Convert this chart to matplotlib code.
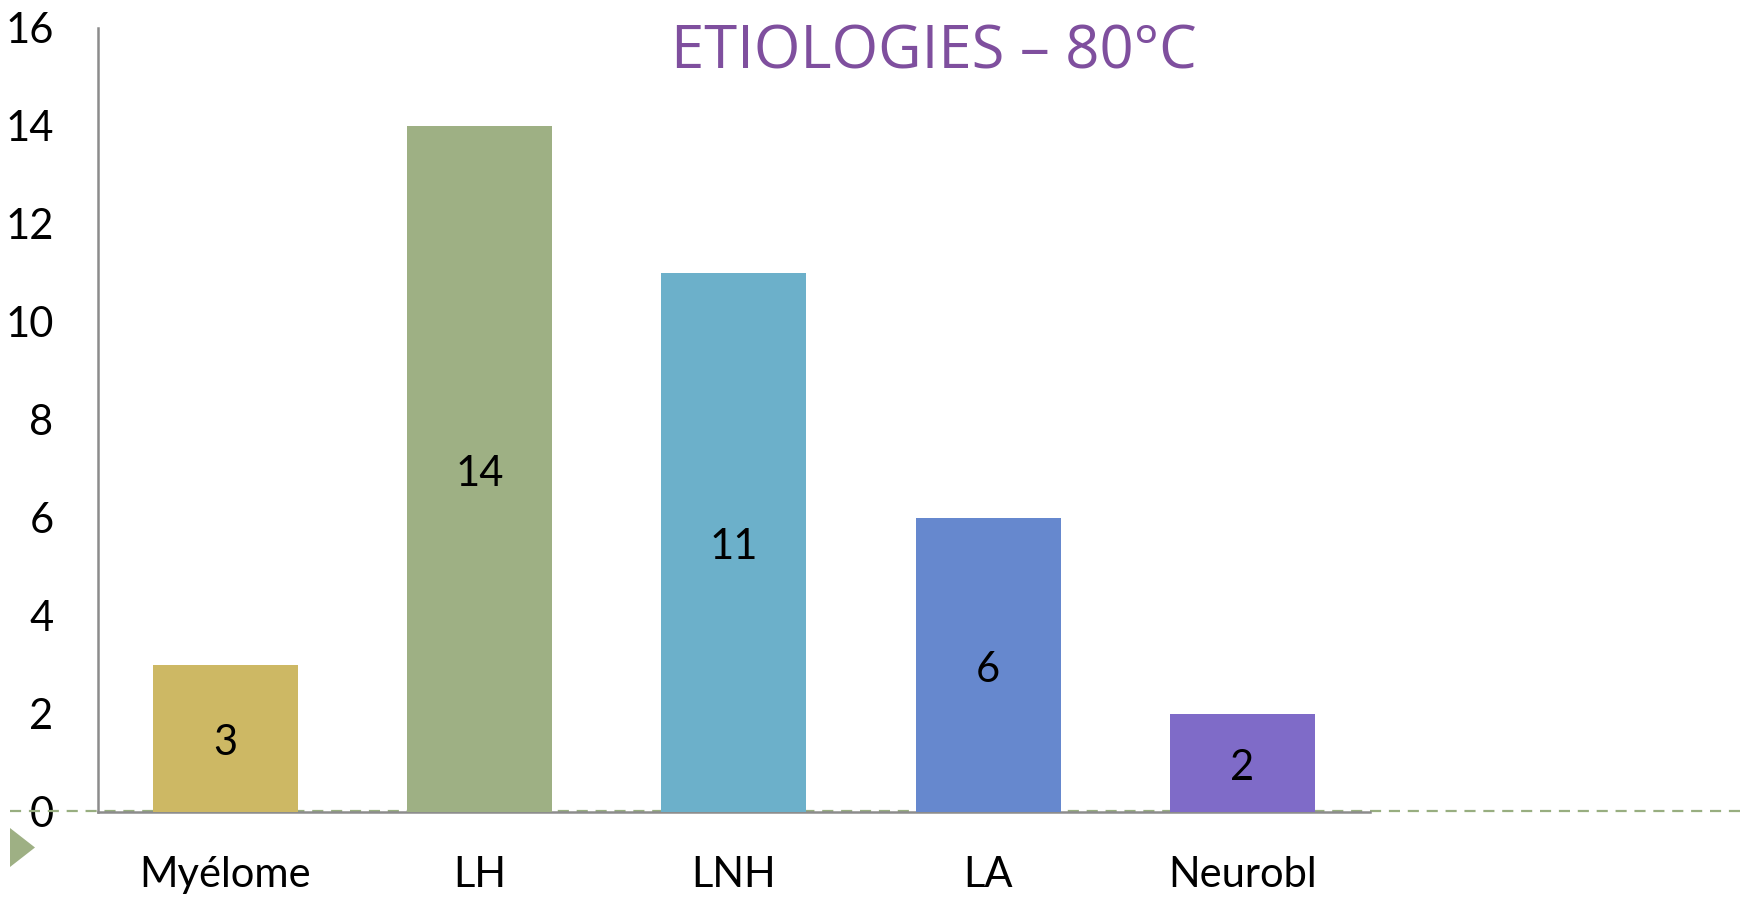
import matplotlib.pyplot as plt
import matplotlib.patches as mpatches
import matplotlib.transforms as mtransforms

# ---- Data ----
categories = ["Myélome", "LH", "LNH", "LA", "Neurobl"]
values = [3, 14, 11, 6, 2]
colors = ["#CDB864", "#9EB084", "#6CB0CA", "#6688CE", "#7F6BC8"]
yticks = [0, 2, 4, 6, 8, 10, 12, 14, 16]

# ---- Canvas ----
fig = plt.figure(figsize=(17.43, 8.97), dpi=100)
ax = fig.add_axes([0.0562, 0.0948, 0.7296, 0.874])

xs = range(len(categories))
bars = ax.bar(xs, values, width=0.57, color=colors, zorder=3)
for x, v in zip(xs, values):
    ax.text(x, v / 2 - 0.1, str(v), ha="center", va="center", fontsize=30,
            family="Lato", color="black", zorder=4)

ax.set_xlim(-0.5, 4.5)
ax.set_ylim(0, 16)
ax.set_yticks(yticks)
ax.set_yticklabels([str(t) for t in yticks], fontsize=30, family="Lato")
ax.set_xticks(list(xs))
ax.set_xticklabels(categories, fontsize=30, family="Lato")
ax.tick_params(axis="y", length=0, pad=32)
ax.tick_params(axis="x", length=0, pad=32)

for s in ["top", "right"]:
    ax.spines[s].set_visible(False)
for s in ["left", "bottom"]:
    ax.spines[s].set_color("#8C8C8C")
    ax.spines[s].set_linewidth(1.8)

# ---- Dashed baseline across the slide ----
trans = mtransforms.blended_transform_factory(fig.transFigure, ax.transData)
ax.plot([10 / 1743, 1.0], [0.02, 0.02], transform=trans, clip_on=False,
        color="#98AE80", lw=1.6, dashes=(5, 3.5), zorder=2)

# ---- Title ----
fig.text(0.536, 0.942, "ETIOLOGIES – 80°C", ha="center", va="center",
         fontsize=43, family="Open Sans", color="#7F4F9E")

# ---- Slide bullet triangle ----
tri = mpatches.Polygon([(10 / 1743, 1 - 828 / 897), (10 / 1743, 1 - 867 / 897),
                        (35 / 1743, 1 - 847.5 / 897)], closed=True,
                       transform=fig.transFigure, facecolor="#9EB084",
                       edgecolor="none")
fig.patches.append(tri)

plt.savefig("out.png", dpi=100)
plt.close()
